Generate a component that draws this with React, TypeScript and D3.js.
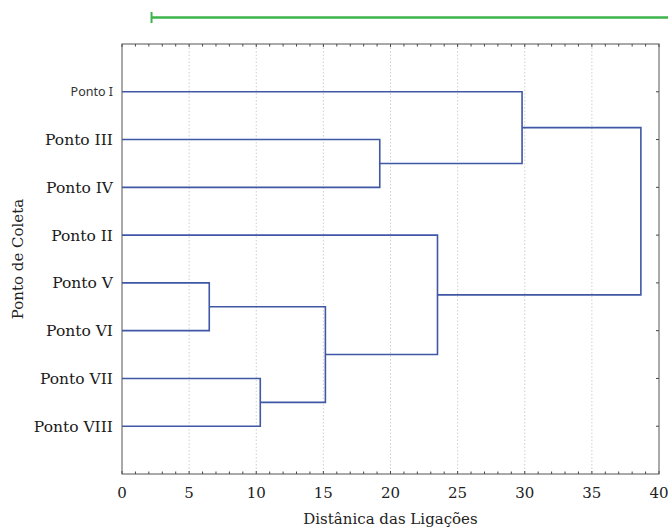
import React from "react";
import * as d3 from "d3";

// leaves, top to bottom
const leaves = ["Ponto I", "Ponto III", "Ponto IV", "Ponto II", "Ponto V", "Ponto VI", "Ponto VII", "Ponto VIII"];
// merges: [left child, right child, linkage distance]
const merges: [string, string, number][] = [
  ["Ponto V", "Ponto VI", 6.5],
  ["Ponto VII", "Ponto VIII", 10.3],
  ["m0", "m1", 15.15],
  ["Ponto III", "Ponto IV", 19.2],
  ["Ponto II", "m2", 23.5],
  ["Ponto I", "m3", 29.8],
  ["m5", "m4", 38.65],
];
const xTicks = [0, 5, 10, 15, 20, 25, 30, 35, 40];
const minorTicks = d3.range(0, 41, 1);
const scaleBar = [2.2, 41.5];

const W = 668, H = 529;
const m = { left: 122, right: 659, top: 44, bottom: 474 };
const serif = "'DejaVu Serif', serif";

const App = () => {
  const x = d3.scaleLinear().domain([0, 40]).range([m.left, m.right]);
  const y = d3.scalePoint<string>().domain(leaves).range([m.top, m.bottom]).padding(1);

  const nodes: Record<string, { x: number; y: number }> = {};
  leaves.forEach(l => (nodes[l] = { x: x(0), y: y(l)! }));
  const paths: string[] = [];
  merges.forEach(([a, b, d], i) => {
    const na = nodes[a], nb = nodes[b];
    const xd = x(d);
    const p = d3.path();
    p.moveTo(na.x, na.y);
    p.lineTo(xd, na.y);
    p.lineTo(xd, nb.y);
    p.lineTo(nb.x, nb.y);
    paths.push(p.toString());
    nodes["m" + i] = { x: xd, y: (na.y + nb.y) / 2 };
  });

  return (
    <svg width={W} height={H} style={{ position: "absolute", left: 0, top: 0 }}>
      <rect width={W} height={H} fill="#fff" />
      {/* scale bar */}
      <line x1={x(scaleBar[0])} x2={x(scaleBar[1])} y1={17.5} y2={17.5} stroke="#3cb44b" strokeWidth={2.5} />
      <line x1={x(scaleBar[0])} x2={x(scaleBar[0])} y1={12} y2={23} stroke="#3cb44b" strokeWidth={2} />
      {/* grid */}
      {xTicks.slice(1, -1).map(t => (
        <line key={t} x1={x(t)} x2={x(t)} y1={m.top} y2={m.bottom} stroke="#cfcfcf" strokeWidth={1} strokeDasharray="1.5,2" />
      ))}
      {/* minor ticks */}
      {minorTicks.map(t => (
        <g key={t}>
          <line x1={x(t)} x2={x(t)} y1={m.top} y2={m.top + (t % 5 === 0 ? 3 : 2.5)} stroke="#444" />
          <line x1={x(t)} x2={x(t)} y1={m.bottom} y2={m.bottom - (t % 5 === 0 ? 3 : 2.5)} stroke="#444" />
        </g>
      ))}
      {leaves.map(l => (
        <line key={l} x1={m.right} x2={m.right - 3} y1={y(l)} y2={y(l)} stroke="#444" />
      ))}
      {/* frame */}
      <rect x={m.left} y={m.top} width={m.right - m.left} height={m.bottom - m.top} fill="none" stroke="#555" strokeWidth={1} />
      {/* dendrogram */}
      {paths.map((d, i) => (
        <path key={i} d={d} fill="none" stroke="#3f57a5" strokeWidth={1.6} />
      ))}
      {/* labels */}
      {leaves.map((l, i) => (
        <text key={l} x={m.left - 9} y={y(l)} dy="0.35em" textAnchor="end"
          style={i === 0 ? { fontFamily: "'Noto Sans', sans-serif", fontSize: 12.5, fill: "#333" } : { fontFamily: serif, fontSize: 15.5, fill: "#1a1a1a" }}>
          {l}
        </text>
      ))}
      {xTicks.map(t => (
        <text key={t} x={x(t)} y={498} textAnchor="middle" style={{ fontFamily: serif, fontSize: 15, fill: "#222" }}>
          {t}
        </text>
      ))}
      <text x={(m.left + m.right) / 2} y={524} textAnchor="middle" style={{ fontFamily: serif, fontSize: 15, fill: "#222" }}>
        Distânica das Ligações
      </text>
      <text transform={`translate(23, ${(m.top + m.bottom) / 2}) rotate(-90)`} textAnchor="middle"
        style={{ fontFamily: serif, fontSize: 15, fill: "#222" }}>
        Ponto de Coleta
      </text>
    </svg>
  );
};

export default App;
